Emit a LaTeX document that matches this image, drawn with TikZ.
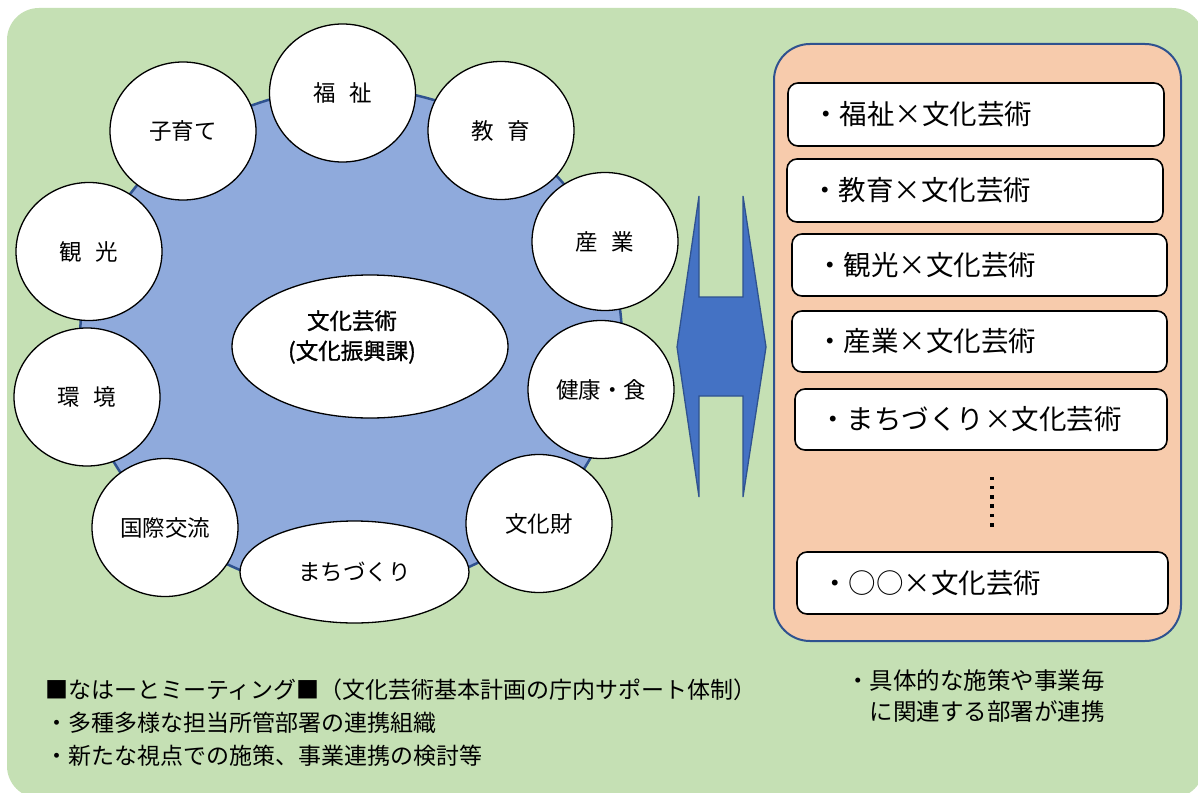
\documentclass[tikz,border=0pt]{standalone}
\usepackage{fontspec}
\setmainfont{Noto Sans CJK JP}
\newfontfamily\jpbold[FakeBold=1.2]{Noto Sans CJK JP}
\usetikzlibrary{shapes.geometric}
\definecolor{bggreen}{HTML}{C5E0B4}
\definecolor{ringblue}{HTML}{8FAADC}
\definecolor{edgeblue}{HTML}{2F528F}
\definecolor{arrowblue}{HTML}{4472C4}
\definecolor{panelorange}{HTML}{F7CBAC}
\begin{document}
\begin{tikzpicture}[x=1pt,y=-1pt,
  circ/.style={ellipse, draw=black, line width=1.3pt, fill=white, inner sep=0pt,
    minimum width=146pt, minimum height=138pt, font=\fontsize{22.5}{26}\selectfont},
  itembox/.style={rectangle, rounded corners=10pt, draw=black, line width=1.6pt, fill=white,
    font=\fontsize{27.5}{32}\selectfont, align=left, inner xsep=24pt, inner ysep=0pt},
  note/.style={anchor=west, align=left, inner sep=0pt, font=\fontsize{23}{33}\selectfont}
]
\useasboundingbox (0,0) rectangle (1198,792);
\fill[white] (0,0) rectangle (1198,792);
\fill[bggreen, rounded corners=32pt] (7,8) rectangle (1204,798);

% big blue ellipse
\draw[fill=ringblue, draw=edgeblue, line width=2.5pt] (351,340) ellipse (271 and 252);

% satellite circles
\node[circ] (fukushi) at (342.5,93) {福\hspace{0.6em}祉};
\node[circ] (kyoiku) at (501,130.5) {教\hspace{0.6em}育};
\node[circ] (kosodate) at (183,131) {子育て};
\node[circ] (kanko) at (89,251.5) {観\hspace{0.6em}光};
\node[circ] (sangyo) at (605,241.5) {産\hspace{0.6em}業};
\node[circ] (kenko) at (601,389.5) {健康・食};
\node[circ] (bunkazai) at (539,523.5) {文化財};
\node[circ, minimum width=229pt, minimum height=102pt] (machi) at (354.5,572) {まちづくり};
\node[circ] (kokusai) at (165,527.5) {国際交流};
\node[circ] (kankyo) at (87,397) {環\hspace{0.6em}境};

% core
\node[ellipse, draw=black, line width=1.3pt, fill=white, minimum width=276pt, minimum height=143pt] (core) at (370,346.5) {};
\node[align=center, font=\jpbold\fontsize{22.5}{30}\selectfont] (coretxt) at (352,337) {文化芸術\\(文化振興課)};

% double arrow
\draw[fill=arrowblue, draw=edgeblue, line width=1.3pt, line join=miter]
  (699,196) -- (699,297) -- (743,297) -- (743,196) -- (766,347) -- (743,497)
  -- (743,396) -- (699,396) -- (699,497) -- (677,347) -- cycle;

% right panel
\draw[fill=panelorange, draw=edgeblue, line width=2pt, rounded corners=36pt] (774,44) rectangle (1181,641);
\node[itembox, text width=328pt, minimum height=63pt] (b1) at (976,114.5) {・福祉×文化芸術};
\node[itembox, text width=328pt, minimum height=63pt] (b2) at (975,190.5) {・教育×文化芸術};
\node[itembox, text width=327pt, minimum height=62pt] (b3) at (979.5,265) {・観光×文化芸術};
\node[itembox, text width=327pt, minimum height=61pt] (b4) at (979.5,341.5) {・産業×文化芸術};
\node[itembox, text width=324pt, minimum height=61pt] (b5) at (981,419.5) {・まちづくり×文化芸術};
\node[itembox, text width=323pt, minimum height=62pt] (b6) at (982.5,583) {・○○×文化芸術};
\foreach \yy in {478.3,487.7,496.9,506.1,515.5,525}
  \fill[black] (990.3,\yy-1.7) rectangle (993.7,\yy+1.7);

% notes
\node[note] (leftnote) at (45,723) {■なはーとミーティング■（文化芸術基本計画の庁内サポート体制）\\・多種多様な担当所管部署の連携組織\\・新たな視点での施策、事業連携の検討等};
\node[note, font=\fontsize{23.5}{31}\selectfont] (rightnote) at (846,696.5) {・具体的な施策や事業毎\\\hspace*{1em}に関連する部署が連携};
\end{tikzpicture}
\end{document}
